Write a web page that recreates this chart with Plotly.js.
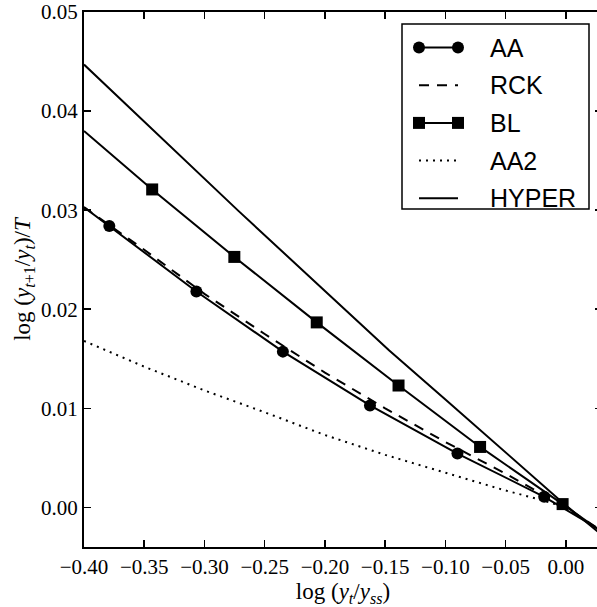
<!DOCTYPE html>
<html>
<head>
<meta charset="utf-8">
<script src="https://cdn.plot.ly/plotly-3.0.1.min.js"></script>
<style>
html, body { margin: 0; padding: 0; overflow: hidden; background: #fff; }
#chart { width: 604px; height: 607px; }
</style>
</head>
<body>
<div id="chart"></div>
<script>
// ---- data ----
const aaLineX  = [-0.40, -0.379, -0.3067, -0.2349, -0.1626, -0.090, -0.018, 0.03];
const aaLineY  = [0.0303, 0.0284, 0.02179, 0.01572, 0.01029, 0.00543, 0.00107, -0.0024];
const aaMarkX  = [-0.379, -0.3067, -0.2349, -0.1626, -0.090, -0.018];
const aaMarkY  = [0.0284, 0.02179, 0.01572, 0.01029, 0.00543, 0.00107];

const rckX = [-0.40, -0.35, -0.30, -0.25, -0.20, -0.15, -0.10, -0.05, 0.00, 0.03];
const rckY = [0.0303, 0.0260, 0.02155, 0.0175, 0.0136, 0.0100, 0.0066, 0.0034, 0.0000, -0.0024];

const blLineX = [-0.40, -0.3434, -0.2752, -0.2068, -0.1389, -0.0712, -0.0027, 0.03];
const blLineY = [0.0380, 0.03209, 0.02528, 0.01867, 0.0123, 0.0061, 0.00033, -0.0025];
const blMarkX = [-0.3434, -0.2752, -0.2068, -0.1389, -0.0712, -0.0027];
const blMarkY = [0.03209, 0.02528, 0.01867, 0.0123, 0.0061, 0.00033];

const aa2X = [-0.40, -0.35, -0.30, -0.2785, -0.25, -0.20, -0.15, -0.1259, -0.10, -0.05, -0.0196, 0.00];
const aa2Y = [0.0168, 0.0142, 0.0118, 0.01087, 0.0096, 0.0073, 0.0053, 0.00443, 0.0035, 0.0017, 0.00073, 0.0000];

const hyperX = [-0.40, -0.30, -0.2716, -0.20, -0.1466, -0.10, 0.00, 0.03];
const hyperY = [0.0447, 0.03318, 0.0299, 0.02184, 0.01583, 0.01089, 0.0002, -0.0028];

const xTicks = [-0.40, -0.35, -0.30, -0.25, -0.20, -0.15, -0.10, -0.05, 0.00];
const yTicks = [0.00, 0.01, 0.02, 0.03, 0.04, 0.05];
const legendNames = ["AA", "RCK", "BL", "AA2", "HYPER"];

// ---- traces ----
const lw = 2;
const traces = [
  {x: hyperX, y: hyperY, mode: 'lines', line: {color: '#000', width: lw}, name: 'HYPER'},
  {x: aa2X, y: aa2Y, mode: 'lines', line: {color: '#000', width: lw, dash: '2px,5px'}, name: 'AA2'},
  {x: rckX, y: rckY, mode: 'lines', line: {color: '#000', width: lw, dash: '10px,8px'}, name: 'RCK'},
  {x: aaLineX, y: aaLineY, mode: 'lines', line: {color: '#000', width: lw}, name: 'AA'},
  {x: blLineX, y: blLineY, mode: 'lines', line: {color: '#000', width: lw}, name: 'BL'},
  {x: aaMarkX, y: aaMarkY, mode: 'markers', marker: {symbol: 'circle', size: 12, color: '#000'}, name: 'AA'},
  {x: blMarkX, y: blMarkY, mode: 'markers', marker: {symbol: 'square', size: 12, color: '#000'}, name: 'BL'}
];

// ---- legend drawn in paper coordinates (pixel geometry of plot area) ----
const L = 84, R = 602, T = 12, B = 547;
const px = v => (v - L) / (R - L);
const py = v => (B - v) / (B - T);
const shapes = [];
const annotations = [];
shapes.push({type: 'rect', xref: 'paper', yref: 'paper', x0: px(402), x1: px(589), y0: py(209), y1: py(24),
  line: {color: '#000', width: 1.5}, fillcolor: '#fff', layer: 'above'});
const rowY = [47.5, 85.2, 122.9, 160.6, 198.3];
const styles = [
  {dash: 'solid', marker: 'circle'},
  {dash: '10px,8px', marker: null},
  {dash: 'solid', marker: 'square'},
  {dash: '2px,5px', marker: null},
  {dash: 'solid', marker: null}
];
const sx0 = 419, sx1 = 458;
legendNames.forEach((name, i) => {
  const yy = py(rowY[i]);
  shapes.push({type: 'line', xref: 'paper', yref: 'paper', x0: px(sx0), x1: px(sx1), y0: yy, y1: yy,
    line: {color: '#000', width: lw, dash: styles[i].dash}, layer: 'above'});
  if (styles[i].marker) {
    [sx0, sx1].forEach(mx => {
      shapes.push({type: styles[i].marker === 'circle' ? 'circle' : 'rect', xref: 'paper', yref: 'paper',
        xsizemode: 'pixel', ysizemode: 'pixel', xanchor: px(mx), yanchor: yy,
        x0: -6, x1: 6, y0: -6, y1: 6, fillcolor: '#000', line: {color: '#000', width: 0}, layer: 'above'});
    });
  }
  annotations.push({xref: 'paper', yref: 'paper', x: px(488), y: yy, xanchor: 'left', yanchor: 'middle',
    text: name, showarrow: false, font: {family: 'Liberation Sans, Arial, sans-serif', size: 25, color: '#000'}});
});

const tickFont = {family: 'Liberation Serif, Times New Roman, serif', size: 21, color: '#000'};
const titleFont = {family: 'Liberation Serif, Times New Roman, serif', size: 23, color: '#000'};
const layout = {
  width: 604, height: 607,
  margin: {l: L, r: 604 - R, t: T, b: 607 - B},
  paper_bgcolor: '#fff', plot_bgcolor: '#fff',
  showlegend: false,
  xaxis: {
    range: [-0.40, 0.03], tickvals: xTicks, tickformat: '.2f', ticklabeloverflow: 'allow',
    ticks: 'inside', ticklen: 7, tickwidth: 1.5, tickcolor: '#000',
    showline: true, linewidth: 2, linecolor: '#000', mirror: 'ticks',
    showgrid: false, zeroline: false, tickfont: tickFont,
    title: {text: 'log (<i>y</i><sub><i>t</i></sub>/<i>y</i><sub><i>ss</i></sub>)', font: titleFont, standoff: 4}
  },
  yaxis: {
    range: [-0.004, 0.05], tickvals: yTicks, tickformat: '.2f', ticklabeloverflow: 'allow',
    ticks: 'inside', ticklen: 7, tickwidth: 1.5, tickcolor: '#000',
    showline: true, linewidth: 2, linecolor: '#000', mirror: 'ticks',
    showgrid: false, zeroline: false, tickfont: tickFont,
    title: {text: 'log (<i>y</i><sub><i>t</i>+1</sub>/<i>y</i><sub><i>t</i></sub>)/<i>T</i>', font: titleFont, standoff: 4}
  },
  shapes: shapes,
  annotations: annotations
};

Plotly.newPlot('chart', traces, layout, {staticPlot: true, displayModeBar: false});
</script>
</body>
</html>
